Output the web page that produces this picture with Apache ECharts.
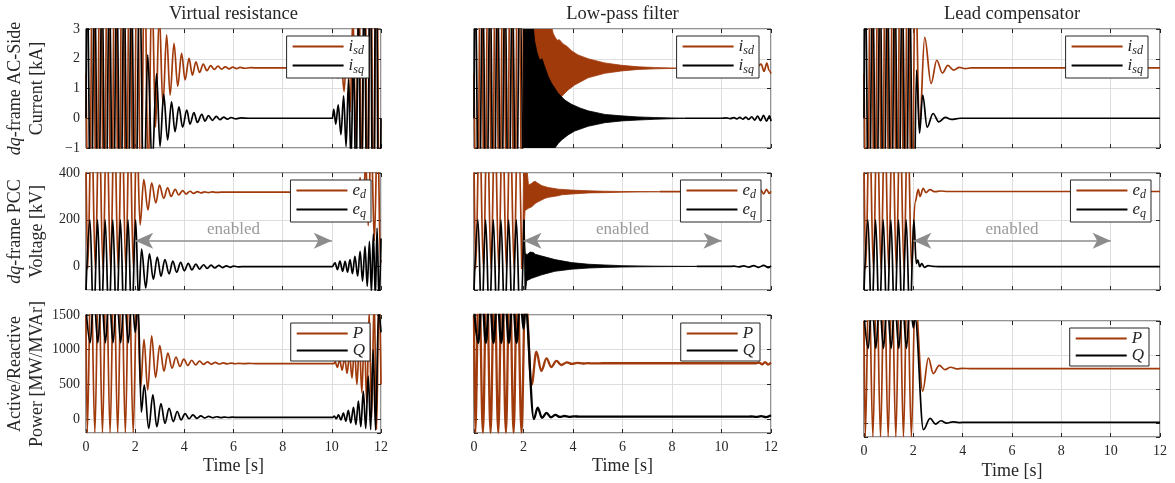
<!DOCTYPE html>
<html><head><meta charset="utf-8">
<script src="https://cdn.jsdelivr.net/npm/echarts@6/dist/echarts.min.js"></script>
<style>html,body{margin:0;padding:0;background:#fff}#c{width:1175px;height:483px}</style>
</head><body><div id="c"></div>
<script>
// ---------------- DATA (time [s], value) ----------------
const titles = ['Virtual resistance', 'Low-pass filter', 'Lead compensator'];
const xTicks = [0, 2, 4, 6, 8, 10, 12];
const enabledFrom = 2, enabledTo = 10, enabledLevel = 110;

// common behaviour before the damping is enabled (0-2 s)
const isdPre = [[0,1.5],[0.13,-5],[0.28,7],[0.43,-5],[0.58,7],[0.73,-5],[0.88,7],[1.03,-5],[1.18,7],[1.33,-5],[1.48,7],[1.63,-5],[1.78,7],[1.93,-5]];
const isqPre = [[0,0],[0.05,5],[0.2,-5],[0.35,5],[0.5,-5],[0.65,5],[0.8,-5],[0.95,5],[1.1,-5],[1.25,5],[1.4,-5],[1.55,5],[1.7,-5],[1.85,5],[2.0,-5]];
const edPre = [[0,450],[0.07,-10],[0.22,650],[0.38,-10],[0.53,650],[0.69,-10],[0.84,650],[1.0,-10],[1.15,650],[1.31,-10],[1.46,650],[1.62,-10],[1.77,650],[1.93,-10]];
const eqPre = [[0,-100],[0.16,200],[0.31,-250],[0.47,200],[0.62,-250],[0.78,200],[0.93,-250],[1.09,200],[1.24,-250],[1.4,200],[1.55,-250],[1.71,200],[1.86,-250],[2.02,200]];
const pPre = [[0,1500],[0.05,-195],[0.2,2200],[0.36,-195],[0.51,2200],[0.67,-195],[0.82,2200],[0.98,-195],[1.13,2200],[1.29,-195],[1.44,2200],[1.6,-195],[1.75,2200],[1.92,-195]];
const qPre = [[0,1600],[0.17,1100],[0.32,1800],[0.48,1100],[0.63,1800],[0.79,1100],[0.94,1800],[1.1,1100],[1.25,1800],[1.41,1100],[1.56,1800],[1.72,1100],[1.87,1800]];

// Virtual resistance
const isdVR = [[2.08,6.5],[2.23,-3.5],[2.38,5.5],[2.53,-2],[2.68,4.5],[2.83,-0.3],[2.98,3.5],[3.13,0.45],[3.28,2.8],[3.42,0.78],[3.58,2.52],[3.73,1.08],[3.89,2.18],[4.03,1.29],[4.19,2.01],[4.33,1.45],[4.47,1.9],[4.62,1.54],[4.77,1.82],[4.92,1.6],[5.07,1.77],[5.22,1.64],[5.37,1.75],[5.52,1.65],[5.67,1.73],[5.82,1.66],[5.97,1.72],[6.12,1.67],[6.27,1.71],[6.45,1.68],[6.7,1.7],[7.0,1.69],[10.03,1.69],[10.13,1.85],[10.25,1.35],[10.37,2.1],[10.5,0.9],[10.62,2.7],[10.74,0.2],[10.86,3.5],[10.98,-0.8],[11.1,4.5],[11.22,-2],[11.34,5.5],[11.46,-3],[11.58,6.5],[11.7,-4],[11.82,7],[11.94,-5],[12,-2]];
const isqVR = [[2.18,5],[2.35,-3],[2.51,2.13],[2.69,-1.6],[2.87,1.5],[3.01,-0.95],[3.16,0.8],[3.32,-0.73],[3.48,0.55],[3.62,-0.45],[3.78,0.38],[3.93,-0.3],[4.1,0.27],[4.23,-0.2],[4.39,0.19],[4.53,-0.14],[4.71,0.13],[4.84,-0.1],[4.98,0.09],[5.14,-0.07],[5.3,0.06],[5.45,-0.05],[5.6,0.04],[5.75,-0.03],[5.9,0.025],[6.1,-0.02],[6.3,0.01],[6.6,0],[10.02,0],[10.08,0.3],[10.16,-0.2],[10.26,0.45],[10.37,-0.55],[10.48,0.75],[10.58,-0.95],[10.68,1.3],[10.78,-1.5],[10.88,2.2],[10.98,-2.5],[11.08,3.5],[11.2,-3.5],[11.32,5],[11.44,-5],[11.56,6],[11.68,-6],[11.8,7],[11.92,-7],[12,0]];
const edVR = [[2.06,600],[2.2,178],[2.35,372],[2.52,242],[2.67,358],[2.84,272],[2.99,348],[3.16,292],[3.32,337],[3.46,300],[3.63,330],[3.77,306],[3.93,325],[4.07,310],[4.23,322],[4.38,313],[4.53,320.5],[4.68,315],[4.83,319.5],[4.98,316],[5.13,319],[5.3,317],[5.5,318],[10.05,318],[10.13,323],[10.23,313],[10.33,327],[10.44,308],[10.54,333],[10.64,300],[10.74,342],[10.84,290],[10.94,355],[11.05,270],[11.15,380],[11.27,240],[11.38,450],[11.48,175],[11.6,560],[11.73,110],[11.86,620],[11.98,15],[12,30]];
const eqVR = [[2.14,-150],[2.26,75],[2.43,-91],[2.58,54],[2.74,-55],[2.9,41],[3.05,-41],[3.21,30],[3.38,-31],[3.53,23],[3.69,-24],[3.85,18],[4.0,-18],[4.16,14],[4.31,-14],[4.47,11],[4.62,-11],[4.78,8],[4.93,-8],[5.09,6],[5.24,-6],[5.4,5],[5.55,-4],[5.71,3],[5.86,-3],[6.0,2],[6.2,-1],[6.5,0],[10.02,0],[10.13,16],[10.23,-13],[10.33,23],[10.44,-20],[10.54,22],[10.64,-24],[10.74,30],[10.84,-30],[10.94,44],[11.05,-41],[11.15,65],[11.25,-62],[11.35,87],[11.44,-84],[11.53,108],[11.61,-110],[11.69,140],[11.77,-130],[11.84,165],[11.92,-150],[12,120]];
const pVR = [[2.07,1900],[2.22,450],[2.36,1150],[2.51,420],[2.67,1200],[2.83,600],[3.0,1060],[3.17,690],[3.33,950],[3.5,735],[3.66,895],[3.82,760],[3.98,865],[4.14,775],[4.3,848],[4.46,782],[4.62,835],[4.78,788],[4.94,825],[5.1,791],[5.26,817],[5.42,794],[5.58,811],[5.74,796],[5.9,807],[6.06,798],[6.22,804],[6.4,799],[6.6,802],[6.9,800],[10.08,800],[10.14,825],[10.22,745],[10.32,850],[10.42,705],[10.52,890],[10.62,660],[10.72,940],[10.82,590],[10.92,1020],[11.02,500],[11.12,1120],[11.22,380],[11.32,1260],[11.42,230],[11.52,1550],[11.62,20],[11.72,1750],[11.82,-150],[11.92,1900],[12,500]];
const qVR = [[2.0,1250],[2.12,1650],[2.25,100],[2.37,490],[2.55,-133],[2.72,350],[2.88,-110],[3.05,225],[3.21,-60],[3.38,155],[3.55,-35],[3.71,110],[3.87,-10],[4.03,80],[4.19,5],[4.35,60],[4.51,12],[4.67,48],[4.83,17],[4.99,40],[5.15,20],[5.31,34],[5.47,22],[5.63,30],[5.79,23],[5.95,28],[6.2,25],[10.05,25],[10.1,45],[10.18,5],[10.27,60],[10.37,-10],[10.47,85],[10.57,-30],[10.67,125],[10.77,-55],[10.88,170],[10.98,-80],[11.08,260],[11.18,-110],[11.28,400],[11.38,-135],[11.48,620],[11.58,-150],[11.68,1000],[11.78,-160],[11.9,1550],[12,1250]];

// Low-pass filter: envelopes of the fast oscillation + lines after it
const isdUpLP = [[1.97,4],[3.1,3.2],[3.2,2.85],[3.28,2.72],[3.36,2.62],[3.45,2.64],[3.6,2.5],[3.75,2.42],[3.94,2.27],[4.2,2.13],[4.61,2.0],[5.28,1.86],[5.96,1.78],[6.63,1.73],[7.3,1.705],[8.0,1.69],[8.5,1.68]];
const isdLoLP = [[1.97,-2],[3.2,-1.5],[3.4,0.45],[3.54,0.73],[3.8,0.95],[4.07,1.12],[4.61,1.36],[5.28,1.51],[5.96,1.59],[6.63,1.64],[7.3,1.66],[8.0,1.675],[8.5,1.68]];
const isqUpLP = [[2.0,4],[2.35,3.5],[2.45,2.6],[2.55,2.2],[2.65,1.95],[2.75,2.0],[2.85,1.75],[3.0,1.4],[3.14,1.17],[3.4,0.84],[3.67,0.61],[3.94,0.47],[4.3,0.34],[4.61,0.25],[5.28,0.13],[5.96,0.08],[6.63,0.045],[7.3,0.025],[8.0,0.012],[8.5,0.005]];
const isqLoLP = [[2.0,-2],[3.1,-1.5],[3.27,-1.0],[3.4,-0.85],[3.54,-0.73],[3.8,-0.56],[4.07,-0.43],[4.61,-0.27],[5.28,-0.15],[5.96,-0.09],[6.63,-0.06],[7.3,-0.035],[8.0,-0.015],[8.5,-0.005]];
const isdLP = [[8.5,1.68],[10.6,1.68],[10.9,1.71],[11.2,1.65],[11.45,1.74],[11.6,1.82],[11.72,1.58],[11.83,1.85],[11.93,1.6],[12,1.5]];
const isqLP = [[8.5,0],[10.0,0],[10.2,0.01],[10.35,-0.01],[10.5,0.02],[10.62,-0.02],[10.74,0.03],[10.86,-0.03],[10.98,0.04],[11.1,-0.04],[11.22,0.05],[11.34,-0.06],[11.46,0.07],[11.58,-0.08],[11.7,0.1],[11.82,-0.1],[11.94,0.08],[12,-0.1]];
const edUpLP = [[1.96,-10],[2.02,600],[2.13,430],[2.2,350],[2.3,353],[2.4,362],[2.47,365],[2.55,358],[2.74,346],[3.0,338],[3.4,331],[3.94,327],[4.64,324],[5.28,322],[6.0,321],[6.63,320.5],[7.5,320]];
const edLoLP = [[1.96,-10],[2.06,240],[2.2,249],[2.34,256],[2.47,270],[2.61,278],[2.87,292],[3.01,296],[3.4,303],[3.55,307],[3.94,310],[4.64,315],[5.28,316],[6.0,318],[6.63,319],[7.5,320]];
const eqUpLP = [[2.02,200],[2.07,60],[2.13,50],[2.27,62],[2.4,60],[2.47,53],[2.74,45],[3.27,30],[3.94,17],[4.64,10],[5.28,7],[5.98,4],[6.63,3],[7.3,2],[8.0,1.5],[9.0,1]];
const eqLoLP = [[2.02,200],[2.06,-130],[2.13,-60],[2.33,-50],[2.74,-35],[3.27,-20],[3.94,-11],[4.64,-6],[5.28,-3.5],[5.98,-2],[6.63,-1],[7.3,-0.5],[8.0,0],[9.0,0.5]];
const edLP = [[7.5,320],[11.45,320],[11.58,328],[11.7,311],[11.82,330],[11.93,313],[12,322]];
const eqLP = [[9.0,0.7],[10.3,0.7],[10.5,2],[10.7,-1],[10.9,3],[11.1,-2],[11.3,4],[11.5,-3],[11.7,5],[11.9,-4],[12,3]];
const pLP = [[2.07,1900],[2.33,495],[2.52,972],[2.72,695],[2.93,876],[3.12,750],[3.33,838],[3.53,780],[3.75,818],[3.96,795],[4.17,810],[4.4,801],[4.6,806],[4.85,803],[5.2,805],[11.4,805],[11.52,815],[11.64,790],[11.76,822],[11.88,786],[12,815]];
const qLP = [[2.0,1300],[2.08,1600],[2.42,0],[2.57,165],[2.75,18],[2.93,90],[3.11,27],[3.29,60],[3.47,31],[3.65,45],[3.84,33],[4.04,40],[4.3,35],[5.0,36],[11.0,35],[11.2,38],[11.4,31],[11.6,42],[11.8,28],[12,55]];

// Lead compensator
const isdLC = [[2.08,5],[2.25,-0.34],[2.46,2.72],[2.72,1.17],[2.95,1.95],[3.18,1.52],[3.4,1.78],[3.63,1.62],[3.87,1.71],[4.1,1.67],[4.35,1.69],[12,1.69]];
const isqLC = [[2.13,1.62],[2.25,-0.5],[2.38,0.78],[2.56,-0.3],[2.8,0.16],[3.03,-0.12],[3.3,0.03],[3.55,-0.04],[3.9,0.0],[12,0]];
const edLC = [[2.07,275],[2.2,330],[2.27,300],[2.4,334],[2.51,316],[2.67,329],[2.88,320],[3.1,323],[3.4,321],[12,321]];
const eqLC = [[2.12,13],[2.18,28],[2.26,0],[2.34,13],[2.45,-3],[2.6,4],[2.8,1],[3.0,0],[12,0]];
const pLC = [[2.07,1850],[2.38,473],[2.61,958],[2.81,730],[3.05,851],[3.28,788],[3.51,822],[3.76,798],[4.0,806],[4.3,802],[12,802]];
const qLC = [[2.0,1400],[2.07,1550],[2.41,-93],[2.68,72],[2.9,-11],[3.12,38],[3.35,4],[3.59,23],[3.85,12],[4.2,14],[12,14]];

const yNames = ['{i|dq}-frame AC-Side\nCurrent [kA]', '{i|dq}-frame PCC\nVoltage [kV]', 'Active/Reactive\nPower [MW/MVAr]'];
const legendLabels = {isd:'{m|i}{s|sd}', isq:'{m|i}{s|sq}', ed:'{m|e}{s|d}', eq:'{m|e}{s|q}', P:'{m|P}', Q:'{m|Q}'};

// ---------------- LAYOUT / STYLE ----------------
const FONT = '"Liberation Serif", "DejaVu Serif", serif';
const TXT = '#262626';
const ORANGE = '#A13A0B';
const BLACK = '#000000';
const GRIDC = '#dedede';

const gridPos = [
  {left:86, top:29, width:295, height:119}, {left:474, top:29, width:297, height:119}, {left:864, top:29, width:296, height:119},
  {left:86, top:173, width:295, height:117}, {left:474, top:173, width:297, height:117}, {left:864, top:173, width:296, height:117},
  {left:86, top:315, width:295, height:118}, {left:474, top:315, width:297, height:118}, {left:864, top:321, width:296, height:116}
];
const rowY = [
  {min:-1, max:3, interval:1},
  {min:-100, max:400, splitNumber:3},
  {min:-200, max:1500, splitNumber:3}
];
const legendPos = [[806,36],[416,36],[27,36],[804,180],[414,180],[24,180],[805,323],[415,323],[26,328]];

const panels = [
  {a:['isd', isdPre, isdVR], b:['isq', isqPre, isqVR]},
  {a:['isd', isdPre, isdLP], b:['isq', isqPre, isqLP], bandA:[isdUpLP, isdLoLP], bandB:[isqUpLP, isqLoLP]},
  {a:['isd', isdPre, isdLC], b:['isq', isqPre, isqLC]},
  {a:['ed', edPre, edVR], b:['eq', eqPre, eqVR], arrow:true},
  {a:['ed', edPre, edLP], b:['eq', eqPre, eqLP], bandA:[edUpLP, edLoLP], bandB:[eqUpLP, eqLoLP], arrow:true},
  {a:['ed', edPre, edLC], b:['eq', eqPre, eqLC], arrow:true},
  {a:['P', pPre, pVR], b:['Q', qPre, qVR]},
  {a:['P', pPre, pLP], b:['Q', qPre, qLP], thick:true},
  {a:['P', pPre, pLC], b:['Q', qPre, qLC]}
];

const grids = [], xAxes = [], yAxes = [], series = [], legends = [];
const tickStyle = {show:true, inside:true, length:4, lineStyle:{color:TXT, width:1}};
const lblStyle = {fontFamily:FONT, fontSize:14, color:TXT};
const minusFmt = v => (v < 0 ? '\u2212' + (-v) : String(v));

for (let gi = 0; gi < 9; gi++) {
  grids.push(Object.assign({show:true, borderColor:TXT, borderWidth:1, backgroundColor:'#fff', containLabel:false}, gridPos[gi]));
}
// primary axes
for (let gi = 0; gi < 9; gi++) {
  const row = Math.floor(gi / 3), col = gi % 3;
  xAxes.push({
    gridIndex: gi, type:'value', min:xTicks[0], max:xTicks[xTicks.length-1], interval:xTicks[1]-xTicks[0],
    axisLine:{show:false, onZero:false}, axisTick:tickStyle,
    axisLabel:{show: row === 2, margin:7, ...lblStyle},
    splitLine:{show:true, lineStyle:{color:GRIDC, width:1}},
    name: row === 2 ? 'Time [s]' : '', nameLocation:'middle', nameGap: gi === 8 ? 25 : 24,
    nameTextStyle:{fontFamily:FONT, fontSize:18, color:TXT}
  });
  yAxes.push(Object.assign({
    gridIndex: gi, type:'value',
    axisLine:{show:false, onZero:false}, axisTick:tickStyle,
    axisLabel:{show: col === 0, margin:6, showMinLabel: row === 0, formatter:minusFmt, ...lblStyle},
    splitLine:{show:true, lineStyle:{color:GRIDC, width:1}},
    name: col === 0 ? yNames[row] : '', nameLocation:'middle', nameRotate:90, nameGap:38,
    nameTextStyle:{fontFamily:FONT, fontSize:18, color:TXT, lineHeight:22,
      rich:{i:{fontFamily:FONT, fontSize:18, fontStyle:'italic', color:TXT, lineHeight:22}}}
  }, rowY[row]));
}
// secondary axes (ticks on top / right, like a boxed plot)
for (let gi = 0; gi < 9; gi++) {
  const row = Math.floor(gi / 3);
  xAxes.push({gridIndex: gi, type:'value', position:'top', min:xTicks[0], max:xTicks[xTicks.length-1], interval:xTicks[1]-xTicks[0],
    axisLine:{show:false, onZero:false}, axisTick:tickStyle, axisLabel:{show:false}, splitLine:{show:false}});
  yAxes.push(Object.assign({gridIndex: gi, type:'value', position:'right',
    axisLine:{show:false, onZero:false}, axisTick:tickStyle, axisLabel:{show:false}, splitLine:{show:false}}, rowY[row]));
}

function lineSeries(name, gi, data, color, width) {
  return {type:'line', name, xAxisIndex:gi, yAxisIndex:gi, data, symbol:'none', showSymbol:false,
    smooth:0.36, smoothMonotone:'x', clip:true, silent:true,
    lineStyle:{color, width}, itemStyle:{color}, emphasis:{disabled:true}};
}
function bandSeries(gi, up, lo, color) {
  return {type:'custom', xAxisIndex:gi, yAxisIndex:gi, data:[up[0]], clip:true, silent:true,
    renderItem(params, api) {
      if (params.dataIndex !== 0) return null;
      const pts = up.map(p => api.coord(p)).concat(lo.slice().reverse().map(p => api.coord(p)));
      const cs = params.coordSys;
      return {type:'polygon', shape:{points:pts}, style:{fill:color, stroke:color, lineWidth:0.8},
        clipPath:{type:'rect', shape:{x:cs.x, y:cs.y, width:cs.width, height:cs.height}}};
    }};
}

for (let gi = 0; gi < 9; gi++) {
  const p = panels[gi];
  const lw = p.thick ? 2.3 : 1.7;
  const nA = p.a[0] + '|' + gi, nB = p.b[0] + '|' + gi;
  if (p.bandA) {
    series.push(lineSeries(nA, gi, p.a[1], ORANGE, lw));
    series.push(bandSeries(gi, p.bandA[0], p.bandA[1], ORANGE));
    series.push(lineSeries(nA, gi, p.a[2], ORANGE, lw));
    series.push(lineSeries(nB, gi, p.b[1], BLACK, lw));
    series.push(bandSeries(gi, p.bandB[0], p.bandB[1], BLACK));
    series.push(lineSeries(nB, gi, p.b[2], BLACK, lw));
  } else {
    series.push(lineSeries(nA, gi, p.a[1].concat(p.a[2]), ORANGE, lw));
    series.push(lineSeries(nB, gi, p.b[1].concat(p.b[2]), BLACK, lw));
  }
  if (p.arrow) {
    series.push({type:'line', xAxisIndex:gi, yAxisIndex:gi, data:[], silent:true, z:5,
      markLine:{silent:true, symbol:['arrow','arrow'], symbolSize:[12,18], animation:false,
        lineStyle:{color:'#8c8c8c', width:1.5, type:'solid'},
        label:{show:true, position:'middle', formatter:'enabled', color:'#9a9a9a', fontFamily:FONT, fontSize:17, distance:3},
        emphasis:{disabled:true},
        data:[[{coord:[enabledFrom, enabledLevel]}, {coord:[enabledTo, enabledLevel]}]]}});
  }
  legends.push({
    data:[nA, nB], orient:'vertical', right:legendPos[gi][0], top:legendPos[gi][1],
    icon:'rect', itemWidth:51, itemHeight:2, itemGap:0, padding:[2,5,2,6], selectedMode:false,
    backgroundColor:'#fff', borderColor:TXT, borderWidth:1, borderRadius:0,
    formatter: n => legendLabels[n.split('|')[0]],
    textStyle:{fontFamily:FONT, fontSize:17, color:TXT,
      rich:{m:{fontFamily:FONT, fontSize:17, fontStyle:'italic', color:TXT, lineHeight:17, verticalAlign:'top'},
            s:{fontFamily:FONT, fontSize:12, fontStyle:'italic', color:TXT, lineHeight:12, padding:[7,0,0,0], verticalAlign:'top'}}}
  });
}

const graphics = titles.map((t, c) => ({
  type:'text', x: gridPos[c].left + gridPos[c].width / 2, y: 14,
  style:{text:t, fill:TXT, font:'18.5px ' + FONT, align:'center', verticalAlign:'middle'}
}));

const chart = echarts.init(document.getElementById('c'), null, {renderer:'canvas', width:1175, height:483});
chart.setOption({
  animation:false, backgroundColor:'#fff',
  grid:grids, xAxis:xAxes, yAxis:yAxes, series, legend:legends, graphic:graphics
});
</script></body></html>
